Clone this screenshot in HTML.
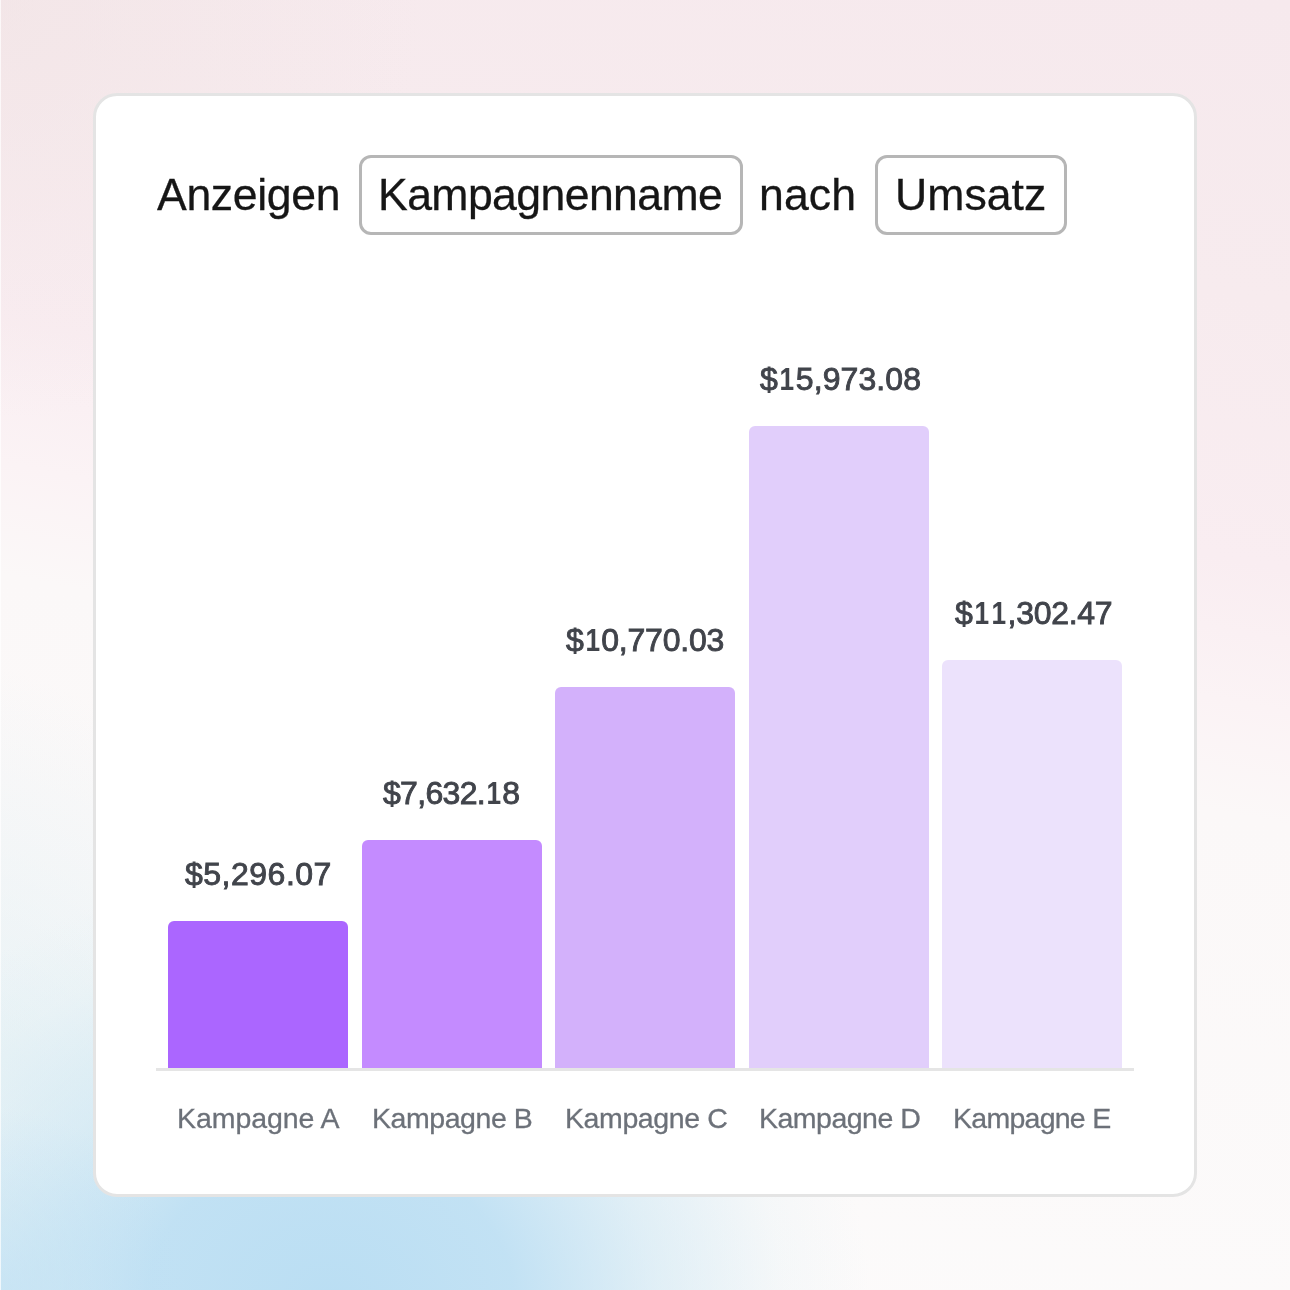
<!DOCTYPE html>
<html>
<head>
<meta charset="utf-8">
<style>
html,body{margin:0;padding:0;}
body{width:1290px;height:1290px;position:relative;overflow:hidden;font-family:"Liberation Sans",sans-serif;
background: radial-gradient(circle 420px at 0px 0px, rgba(240,226,227,0.55) 0%, rgba(240,226,227,0) 100%), linear-gradient(191deg, #f6e9ed 0px, #f7ebee 300px, #f9edf1 560px, #fbf3f5 700px, #fbf8f8 810px, #fcfbfb 1513px);
}
.blob{position:absolute;pointer-events:none;}
.b1{left:0;top:0;width:1290px;height:1290px;background:radial-gradient(ellipse 540px 440px at 330px 1300px, rgba(186,222,243,1) 0%, rgba(186,222,243,0.88) 34%, rgba(196,227,242,0.5) 60%, rgba(210,234,241,0.16) 84%, rgba(215,236,241,0) 100%);}
.b2{left:-500px;top:700px;width:1000px;height:700px;transform:rotate(35deg);background:radial-gradient(closest-side, rgba(215,235,242,0.5) 0%, rgba(220,237,242,0.28) 50%, rgba(225,240,242,0) 100%);}
.b3{left:0;top:0;width:1290px;height:1290px;background:radial-gradient(circle 180px at 0px 1290px, rgba(186,222,243,0.6) 0%, rgba(186,222,243,0.3) 50%, rgba(186,222,243,0) 100%);}
.edge{left:0;top:0;width:1px;height:1290px;background:rgba(255,255,255,0.7);}
.card{position:absolute;left:93px;top:93px;width:1098px;height:1098px;border:3px solid #e4e4e4;border-radius:24px;background:#fff;}
.btn{position:absolute;top:154.5px;height:74.5px;border:3px solid #b6b6b6;border-radius:12px;}
.bar{position:absolute;width:180px;border-radius:6px 6px 0 0;}
.axis{position:absolute;left:156px;top:1068px;width:978px;height:3px;background:#e5e5e5;}
.t{position:absolute;white-space:nowrap;line-height:1;font-family:"Liberation Sans",sans-serif;will-change:transform;}
.h{font-size:44.6px;color:#161616;-webkit-text-stroke:0.3px #161616;}
.v{font-size:32px;color:#41444b;-webkit-text-stroke:0.9px #41444b;}
.x{font-size:28.5px;color:#6c7179;-webkit-text-stroke:0.3px #6c7179;}
.o{display:inline-block;font-weight:bold;-webkit-text-stroke:0;transform:scaleX(0.82);}
</style>
</head>
<body>
<div class="blob b2"></div>
<div class="blob b1"></div>
<div class="blob b3"></div>
<div class="blob edge"></div>
<div class="card"></div>
<div class="btn" style="left:358.5px;width:378px"></div>
<div class="btn" style="left:875px;width:185.5px"></div>
<div class="bar" style="left:168px;top:921px;height:147px;background:#ab66ff"></div>
<div class="bar" style="left:361.5px;top:840px;height:228px;background:#c48bff"></div>
<div class="bar" style="left:555px;top:687px;height:381px;background:#d3b1fb"></div>
<div class="bar" style="left:748.5px;top:426px;height:642px;background:#e1cefb"></div>
<div class="bar" style="left:942px;top:660px;height:408px;background:#ece2fc"></div>
<div class="axis"></div>
<div class="t h" style="left:157.0px;top:173.0px;letter-spacing:-0.343px">Anzeigen</div>
<div class="t h" style="left:378.4px;top:173.0px;letter-spacing:-0.6px">Kampagnenname</div>
<div class="t h" style="left:758.6px;top:173.0px;letter-spacing:0.133px">nach</div>
<div class="t h" style="left:894.9px;top:173.0px;letter-spacing:0.04px">Umsatz</div>
<div class="t v" style="left:185.2px;top:857.7px;letter-spacing:0.5px">$5,296.07</div>
<div class="t v" style="left:383.3px;top:776.8px;letter-spacing:-0.675px">$7,632.<span class="o">1</span>8</div>
<div class="t v" style="left:566.0px;top:623.9px;letter-spacing:-0.2px">$<span class="o">1</span>0,770.03</div>
<div class="t v" style="left:759.65px;top:362.9px;letter-spacing:0.089px">$<span class="o">1</span>5,973.08</div>
<div class="t v" style="left:954.65px;top:597.0px;letter-spacing:-0.289px">$<span class="o">1</span><span class="o">1</span>,302.47</div>
<div class="t x" style="left:176.65px;top:1104.0px;letter-spacing:-0.067px">Kampagne A</div>
<div class="t x" style="left:372.0px;top:1104.0px;letter-spacing:-0.444px">Kampagne B</div>
<div class="t x" style="left:564.9px;top:1104.0px;letter-spacing:-0.4px">Kampagne C</div>
<div class="t x" style="left:758.9px;top:1104.0px;letter-spacing:-0.511px">Kampagne D</div>
<div class="t x" style="left:952.65px;top:1104.0px;letter-spacing:-0.733px">Kampagne E</div>
</body>
</html>
